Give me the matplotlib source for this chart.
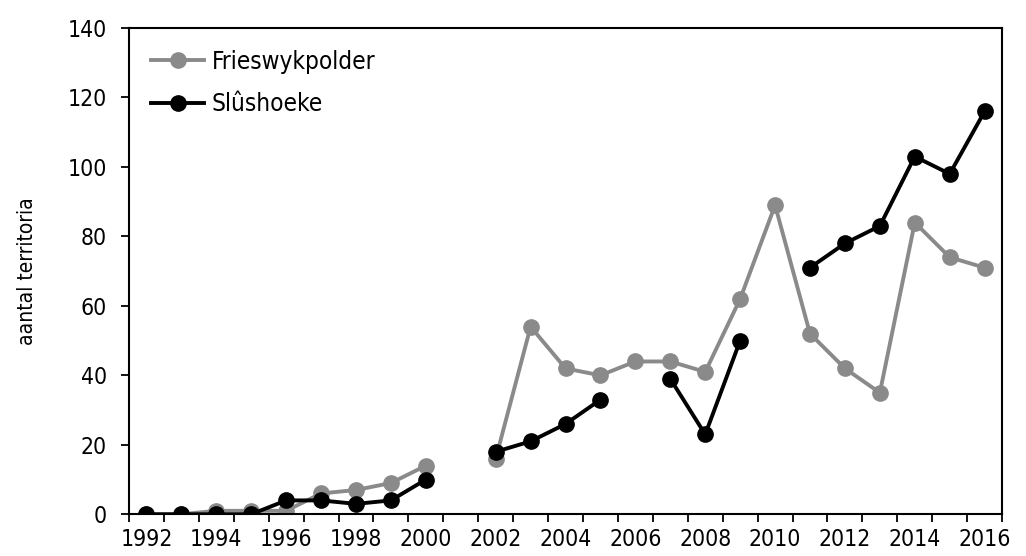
import numpy as np
import matplotlib
matplotlib.use("Agg")
from matplotlib import pyplot as plt

### DATA
years = list(range(1992, 2017))
nan = np.nan
frieswykpolder = [0, 0, 1, 1, 1, 6, 7, 9, 14, nan, 16, 54, 42, 40, 44, 44, 41, 62, 89,
                  52, 42, 35, 84, 74, 71]
slushoeke = [0, 0, 0, 0, 4, 4, 3, 4, 10, nan, 18, 21, 26, 33, nan, 39, 23, 50, nan,
             71, 78, 83, 103, 98, 116]
tick_years = list(range(1992, 2017, 2))

### FONT
plt.rcParams["font.family"] = ["DejaVu Sans"]
plt.rcParams["font.stretch"] = "condensed"

### PLOT
fig = plt.figure(figsize=(10.26, 5.56), dpi=100)
ax = fig.add_axes([0.1257, 0.075, 0.851, 0.8746])

ax.plot(years, frieswykpolder, color="#8a8a8a", lw=2.8, marker="o", markersize=11,
        label="Frieswykpolder")
ax.plot(years, slushoeke, color="black", lw=2.8, marker="o", markersize=11,
        label="Slûshoeke")

ax.set_xlim(1991.5, 2016.5)
ax.set_ylim(0, 140)
ax.set_yticks(range(0, 141, 20))
ax.set_xticks(tick_years)
ax.set_xticks(np.arange(1991.5, 2017, 1), minor=True)
ax.tick_params(axis="x", which="major", length=0, labelsize=16.5, pad=10)
ax.tick_params(axis="x", which="minor", length=6, width=1.3, direction="out")
ax.tick_params(axis="y", length=6, width=1.3, labelsize=16.5, pad=10)
for s in ax.spines.values():
    s.set_linewidth(1.5)

ax.set_ylabel("aantal territoria", fontsize=15, labelpad=22)

ax.legend(loc="upper left", frameon=False, fontsize=17.5, handlelength=2.2,
          handletextpad=0.3, labelspacing=0.75, borderaxespad=0.5)

fig.savefig("out.png", dpi=100)
